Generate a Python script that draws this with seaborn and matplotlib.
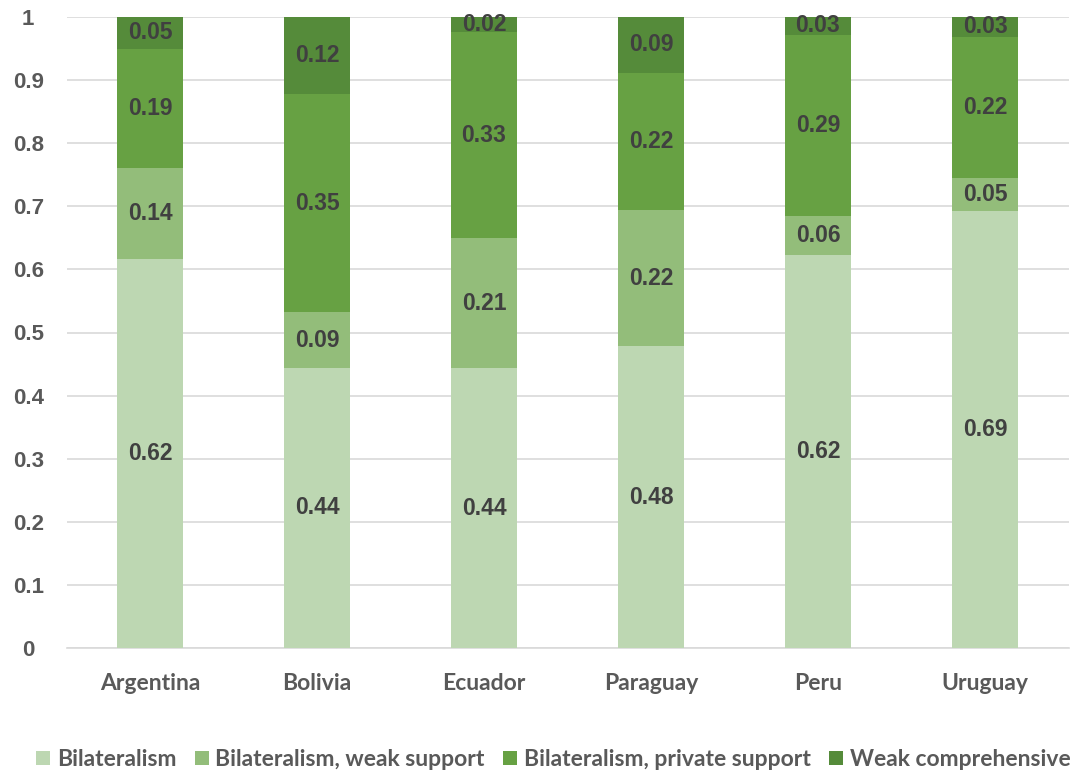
import matplotlib
matplotlib.use("Agg")
import matplotlib.pyplot as plt
from matplotlib.patches import Patch
import seaborn as sns
import pandas as pd
import numpy as np

countries = ["Argentina", "Bolivia", "Ecuador", "Paraguay", "Peru", "Uruguay"]
series_names = ["Bilateralism", "Bilateralism, weak support",
                "Bilateralism, private support", "Weak comprehensive"]
bilateralism = [0.617, 0.444, 0.443, 0.478, 0.623, 0.692]
weak_support = [0.143, 0.088, 0.206, 0.216, 0.062, 0.053]
private_support = [0.190, 0.346, 0.327, 0.218, 0.287, 0.224]
weak_comprehensive = [0.050, 0.122, 0.024, 0.088, 0.028, 0.031]
y_ticks = [0, 0.1, 0.2, 0.3, 0.4, 0.5, 0.6, 0.7, 0.8, 0.9, 1]
y_tick_labels = ["0", "0.1", "0.2", "0.3", "0.4", "0.5", "0.6", "0.7", "0.8", "0.9", "1"]

colors = ["#BDD7B2", "#93BD7A", "#67A143", "#558B3A"]

sns.set_theme(style="white")
plt.rcParams['font.family'] = ['Liberation Sans', 'DejaVu Sans']

layers = [bilateralism, weak_support, private_support, weak_comprehensive]
cum = np.cumsum(np.array(layers), axis=0)

fig = plt.figure(figsize=(10.85, 7.76), dpi=100)
ax = fig.add_axes([66.5 / 1085, 1 - 648 / 776, 1002 / 1085, 631 / 776])

for i in reversed(range(len(layers))):
    d = pd.DataFrame({"country": countries, "top": cum[i]})
    sns.barplot(data=d, x="country", y="top", color=colors[i], width=0.4,
                saturation=1, ax=ax, zorder=3, order=countries,
                linewidth=0, edgecolor="none")

# labels
for i, vals in enumerate(layers):
    bottoms = cum[i] - np.array(vals)
    for j, v in enumerate(vals):
        ax.text(j, bottoms[j] + v / 2, f"{v:.2f}", ha="center", va="center",
                fontsize=16.5, fontweight="bold", color="#404040", zorder=5,
                family=["Liberation Sans", "DejaVu Sans"])

ax.set_ylim(0, 1)
ax.set_xlim(-0.5, 5.5)
ax.set_yticks(y_ticks)
ax.set_yticklabels(y_tick_labels, fontsize=16, fontweight="bold", color="#595959")
ax.set_xticks(range(len(countries)))
ax.set_xticklabels(countries, fontsize=16.5, fontweight="bold", color="#595959",
                   family=["Lato", "DejaVu Sans"])
ax.tick_params(axis="both", length=0)
ax.tick_params(axis="x", pad=18)
ax.tick_params(axis="y", pad=27.5)
for lab in ax.get_yticklabels():
    lab.set_horizontalalignment("center")
ax.grid(axis="y", color="#D9D9D9", linewidth=1.2, zorder=0)
ax.set_axisbelow(True)
for s in ["top", "right", "left"]:
    ax.spines[s].set_visible(False)
ax.spines["bottom"].set_color("#D9D9D9")
ax.spines["bottom"].set_linewidth(1.2)
ax.set_xlabel("")
ax.set_ylabel("")

handles = [Patch(facecolor=c, edgecolor="none") for c in colors]
fig.legend(handles, series_names, loc="center", bbox_to_anchor=(0.510, 0.021),
           ncol=4, frameon=False, prop={"family": ["Lato", "DejaVu Sans"],
                                        "weight": "bold", "size": 16.5},
           labelcolor="#595959", handlelength=0.6, handleheight=0.6,
           handletextpad=0.3, columnspacing=0.8)

fig.savefig("out.png", dpi=100)
